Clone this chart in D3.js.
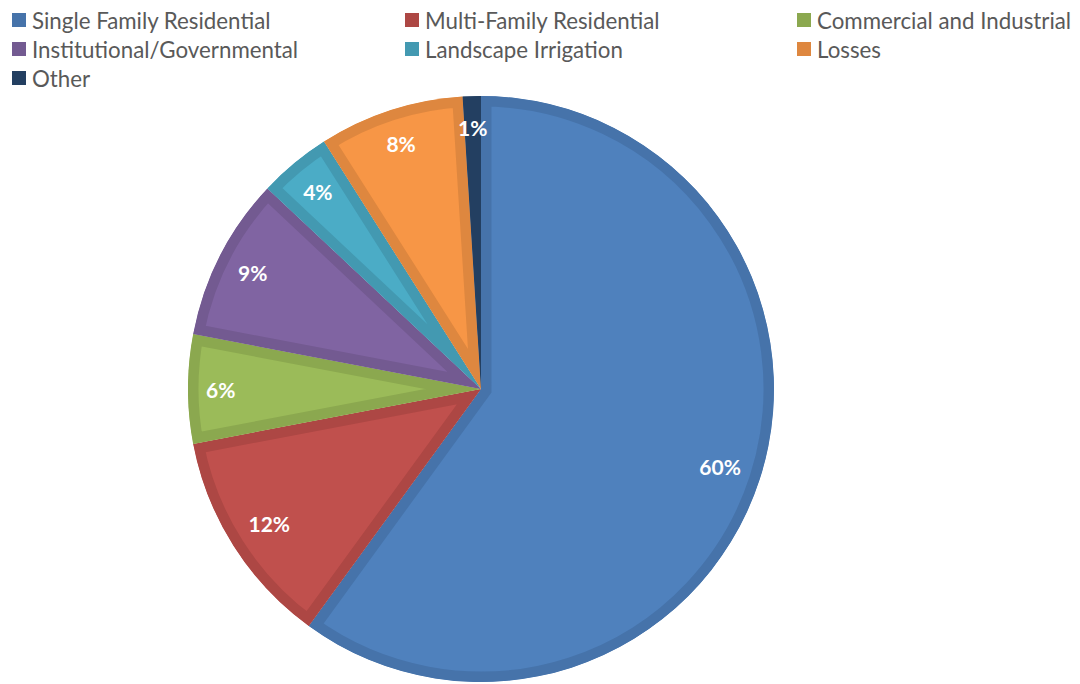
<!DOCTYPE html>
<html>
<head>
<meta charset="utf-8">
<script src="https://cdn.jsdelivr.net/npm/d3@7"></script>
<style>
  body { margin: 0; background: #fff; }
  svg { display: block; }
</style>
</head>
<body>
<div id="chart"></div>
<script>
// Data
const categories = ["Single Family Residential", "Multi-Family Residential", "Commercial and Industrial",
  "Institutional/Governmental", "Landscape Irrigation", "Losses", "Other"];
const shares = [60, 12, 6, 9, 4, 8, 1];
const fills = ["#4F81BD", "#C0504D", "#9BBB59", "#8064A2", "#4BACC6", "#F79646", "#2A4A70"];
const borders = ["#4673AA", "#AD4744", "#8BA84F", "#735A91", "#4399B1", "#DE873F", "#233F61"];

const W = 1080, H = 684;
const cx = 481, cy = 389, R = 293;

const svg = d3.select("#chart").append("svg")
  .attr("width", W)
  .attr("height", H);

const data = categories.map((c, i) => ({ name: c, value: shares[i], i: i }));

const pie = d3.pie().sort(null).value(d => d.value);
const arcs = pie(data);
const arc = d3.arc().innerRadius(0).outerRadius(R);

const g = svg.append("g").attr("transform", `translate(${cx},${cy})`);
const defs = svg.append("defs");

defs.selectAll("clipPath")
  .data(arcs)
  .join("clipPath")
  .attr("id", d => "clip" + d.data.i)
  .append("path")
  .attr("d", arc);

// slices with an inner darker border
g.selectAll(".slice")
  .data(arcs)
  .join("path")
  .attr("class", "slice")
  .attr("d", arc)
  .attr("fill", d => fills[d.data.i])
  .attr("stroke", d => borders[d.data.i])
  .attr("stroke-width", 21)
  .attr("stroke-linejoin", "miter")
  .attr("clip-path", d => `url(#clip${d.data.i})`);

// labels, placed "inside end": bbox kept within a fixed radius
const labelLimit = R - 18;
g.selectAll(".lbl")
  .data(arcs)
  .join("text")
  .attr("class", "lbl")
  .attr("text-anchor", "middle")
  .attr("dominant-baseline", "central")
  .attr("font-family", "Lato, 'Open Sans', sans-serif")
  .attr("font-weight", "bold")
  .attr("font-size", 21)
  .attr("fill", "#fff")
  .text(d => d.data.value + "%")
  .each(function(d) {
    const bb = this.getBBox();
    const a = (d.startAngle + d.endAngle) / 2;
    const s = Math.sin(a), c = -Math.cos(a);
    const ext = Math.abs(s) * bb.width / 2 + Math.abs(c) * bb.height / 2;
    const r = labelLimit - ext;
    d3.select(this).attr("x", r * s).attr("y", r * c);
  });

// legend
const legendCols = [12, 405, 797];
const legendRows = [20, 49, 78];
const legend = svg.append("g").attr("class", "legend");
data.forEach((d, i) => {
  const x = legendCols[i % 3], y = legendRows[Math.floor(i / 3)];
  legend.append("rect")
    .attr("x", x).attr("y", y - 7)
    .attr("width", 14).attr("height", 14)
    .attr("fill", borders[i]);
  legend.append("text")
    .attr("x", x + 20).attr("y", y)
    .attr("dominant-baseline", "central")
    .attr("font-family", "Lato, 'Open Sans', sans-serif")
    .attr("font-size", 22.3)
    .attr("fill", "#595959")
    .text(d.name);
});
</script>
</body>
</html>
